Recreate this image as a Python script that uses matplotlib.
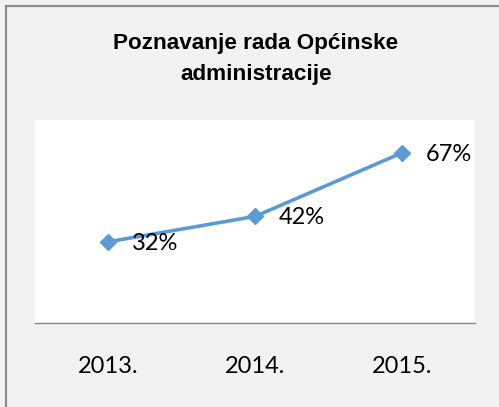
import matplotlib.pyplot as plt
from matplotlib.patches import Rectangle
from matplotlib import font_manager

years = ['2013.', '2014.', '2015.']
shares = [0.32, 0.42, 0.67]
labels = ['32%', '42%', '67%']
title = 'Poznavanje rada Općinske\nadministracije'

line_color = '#5B9BD5'
bg_color = '#F2F2F2'

names = {f.name for f in font_manager.fontManager.ttflist}
title_font = 'Liberation Sans Narrow' if 'Liberation Sans Narrow' in names else 'Liberation Sans'

W, H = 499, 407
fig = plt.figure(figsize=(W / 100, H / 100), dpi=100, facecolor=bg_color)

# grey frame: only its left and top edges fall inside the picture
frame = Rectangle((5.5, -20), W + 40, H - 5.5 + 20, transform=None,
                  fill=False, edgecolor='#8C8C8C', lw=1.6, zorder=10)
fig.add_artist(frame)

ax = fig.add_axes([35 / W, (H - 323) / H, 440 / W, (323 - 120) / H])
ax.set_facecolor('white')

x = range(len(years))
ax.plot(x, shares, color=line_color, lw=2.6, marker='D', ms=8.5,
        markeredgecolor=line_color, solid_capstyle='round')
for xi, v, lab in zip(x, shares, labels):
    ax.annotate(lab, (xi, v), xytext=(17, -1), textcoords='offset points',
                ha='left', va='center', fontsize=17, family='Lato', color='black')

ax.set_xlim(-0.5, 2.5)
ax.set_ylim(0, 0.8)
ax.set_xticks(list(x))
ax.set_xticklabels(years, fontsize=17, family='Lato')
ax.tick_params(axis='x', length=0, pad=24)
ax.set_yticks([])
for s in ['top', 'left', 'right']:
    ax.spines[s].set_visible(False)
ax.spines['bottom'].set_color('#868686')
ax.spines['bottom'].set_linewidth(1.0)

fig.text(256 / W, 1 - 59 / H, title, ha='center', va='center', fontsize=16.2,
         fontweight='bold', family=title_font, linespacing=1.64)

fig.savefig('out.png', dpi=100, facecolor=bg_color)
